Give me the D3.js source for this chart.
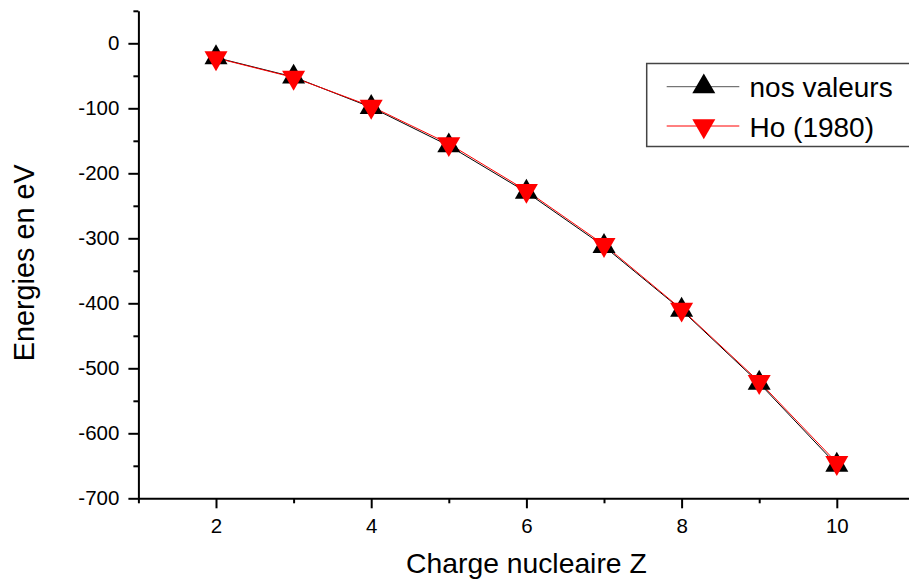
<!DOCTYPE html>
<html>
<head>
<meta charset="utf-8">
<script src="https://cdn.jsdelivr.net/npm/d3@7"></script>
<style>
  html, body { margin: 0; padding: 0; background: #fff; }
  svg { display: block; }
  text { font-family: "Liberation Sans", Arial, sans-serif; fill: #000; }
</style>
</head>
<body>
<svg id="chart" width="909" height="582"></svg>
<script>
// Nuclear charge Z
const charges = [2, 3, 4, 5, 6, 7, 8, 9, 10];
// Energies (eV)
const nosValeurs = [-22, -51.8, -98.5, -157.5, -229, -312.3, -410.3, -522.8, -648.8];
const ho1980 = [-22.6, -52.6, -97, -154.6, -226.6, -309.8, -409.2, -520.6, -645.2];
// Axis ticks
const yMajorTicks = [0, -100, -200, -300, -400, -500, -600, -700];
const yMinorTicks = [50, -50, -150, -250, -350, -450, -550, -650];
const xMajorTicks = [2, 4, 6, 8, 10];
const xMinorTicks = [1, 3, 5, 7, 9, 11];
const seriesNames = ["nos valeurs", "Ho (1980)"];

const svg = d3.select("#chart");

const x = d3.scaleLinear().domain([1, 11]).range([138.4, 914.4]);
const y = d3.scaleLinear().domain([-700, 50]).range([498.3, 10.8]);

// Triangle centred on its centroid; up = true points upward
function triangle(side, up) {
  const h = side * Math.sqrt(3) / 2;
  const s = up ? 1 : -1;
  const p = d3.path();
  p.moveTo(0, -s * h * 2 / 3);
  p.lineTo(side / 2, s * h / 3);
  p.lineTo(-side / 2, s * h / 3);
  p.closePath();
  return p.toString();
}

// ---- Axes ----
function styleAxis(g, keepDomain) {
  g.selectAll("line").attr("stroke", "#000").attr("stroke-width", 2);
  g.select(".domain").attr("stroke", "#000").attr("stroke-width", 2);
  if (!keepDomain) g.select(".domain").remove();
  g.selectAll("text")
    .style("font-family", '"Liberation Sans", Arial, sans-serif')
    .style("font-size", "20.5px")
    .attr("fill", "#000");
}

const xAxisY = y(-700);
const yAxisX = x(1);

svg.append("g")
  .attr("transform", `translate(0,${xAxisY})`)
  .call(d3.axisBottom(x).tickValues(xMinorTicks).tickFormat("").tickSize(5).tickSizeOuter(0))
  .call(g => styleAxis(g, false));

svg.append("g")
  .attr("transform", `translate(0,${xAxisY})`)
  .call(d3.axisBottom(x).tickValues(xMajorTicks).tickFormat(d3.format("d")).tickSize(10).tickSizeOuter(0).tickPadding(10))
  .call(g => styleAxis(g, true));

svg.append("g")
  .attr("transform", `translate(${yAxisX},0)`)
  .call(d3.axisLeft(y).tickValues(yMinorTicks).tickFormat("").tickSize(5).tickSizeOuter(0))
  .call(g => styleAxis(g, false));

svg.append("g")
  .attr("transform", `translate(${yAxisX},0)`)
  .call(d3.axisLeft(y).tickValues(yMajorTicks).tickFormat(d => d3.format("d")(d).replace("\u2212", "-")).tickSize(10).tickSizeOuter(0).tickPadding(9))
  .call(g => styleAxis(g, true));

// Axis titles
svg.append("text")
  .attr("x", 526.4)
  .attr("y", 573)
  .attr("text-anchor", "middle")
  .style("font-size", "28.3px")
  .text("Charge nucleaire Z");

svg.append("text")
  .attr("transform", "translate(33.5,262.8) rotate(-90)")
  .attr("text-anchor", "middle")
  .style("font-size", "28.8px")
  .text("Energies en eV");

// ---- Series ----
const lineGen = d3.line().x(d => x(d[0])).y(d => y(d[1]));
const blackData = charges.map((z, i) => [z, nosValeurs[i]]);
const redData = charges.map((z, i) => [z, ho1980[i]]);

svg.append("path").datum(blackData)
  .attr("d", lineGen).attr("fill", "none").attr("stroke", "#000").attr("stroke-width", 1);
svg.append("path").datum(redData)
  .attr("d", lineGen).attr("fill", "none").attr("stroke", "#ff0000").attr("stroke-width", 1);

svg.append("g").selectAll("path").data(blackData).join("path")
  .attr("d", triangle(23, true))
  .attr("transform", d => `translate(${x(d[0])},${y(d[1])})`)
  .attr("fill", "#000");

svg.append("g").selectAll("path").data(redData).join("path")
  .attr("d", triangle(23, false))
  .attr("transform", d => `translate(${x(d[0])},${y(d[1])})`)
  .attr("fill", "#ff0000");

// ---- Legend ----
const legend = svg.append("g");
legend.append("rect")
  .attr("x", 646.7).attr("y", 63.5)
  .attr("width", 280).attr("height", 83)
  .attr("fill", "#fff").attr("stroke", "#444").attr("stroke-width", 1.5);

const legendRows = [
  { name: seriesNames[0], color: "#000", lineColor: "#555", up: true, ly: 86.7, ty: 96.7 },
  { name: seriesNames[1], color: "#ff0000", lineColor: "#ff0000", up: false, ly: 126, ty: 136.7 }
];
legendRows.forEach(r => {
  legend.append("line")
    .attr("x1", 666.7).attr("x2", 739.3)
    .attr("y1", r.ly).attr("y2", r.ly)
    .attr("stroke", r.lineColor).attr("stroke-width", 1);
  legend.append("path")
    .attr("d", triangle(23, r.up))
    .attr("transform", `translate(703.8,${r.ly})`)
    .attr("fill", r.color);
  legend.append("text")
    .attr("x", 749.5).attr("y", r.ty)
    .style("font-size", "28px")
    .text(r.name);
});
</script>
</body>
</html>
